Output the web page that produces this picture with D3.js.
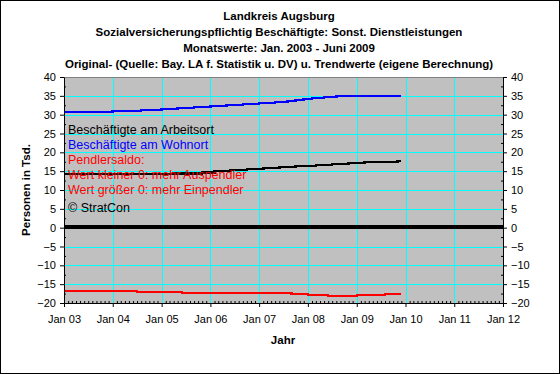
<!DOCTYPE html>
<html><head><meta charset="utf-8">
<script src="https://cdn.jsdelivr.net/npm/d3@7"></script>
<style>
html,body{margin:0;padding:0;background:#fff;}
svg{display:block;font-family:"Liberation Sans",Arial,sans-serif;}
</style></head>
<body><svg id="c" width="560" height="374"></svg>
<script>
// ---- data ----
const titleLines = [
  "Landkreis Augsburg",
  "Sozialversicherungspflichtig Beschäftigte: Sonst. Dienstleistungen",
  "Monatswerte: Jan. 2003 - Juni 2009",
  "Original- (Quelle: Bay. LA f. Statistik u. DV) u. Trendwerte (eigene Berechnung)"
];
const xTickDates = ["2003-01","2004-01","2005-01","2006-01","2007-01","2008-01","2009-01","2010-01","2011-01","2012-01"];
const xTickLabels = ["Jan 03","Jan 04","Jan 05","Jan 06","Jan 07","Jan 08","Jan 09","Jan 10","Jan 11","Jan 12"];
const yTickValues = [-20,-15,-10,-5,0,5,10,15,20,25,30,35,40];

// Beschäftigte am Wohnort (trend, blue)
const wohnortDates  = ["2003-01","2004-01","2004-08","2005-01","2005-05","2005-09","2006-01","2006-05","2006-09","2007-01","2007-05","2007-08","2007-10","2007-12","2008-02","2008-05","2008-08","2009-12"];
const wohnortValues = [30.7,31.0,31.2,31.5,31.8,32.0,32.3,32.6,32.8,33.1,33.4,33.6,33.9,34.2,34.4,34.7,35.0,35.0];

// Beschäftigte am Arbeitsort (trend, black)
const arbeitsortDates  = ["2003-01","2005-04","2005-11","2006-02","2006-06","2006-10","2007-02","2007-06","2007-10","2008-03","2008-07","2008-11","2009-03","2009-11","2009-12"];
const arbeitsortValues = [14.2,14.4,14.7,15.0,15.3,15.6,15.9,16.1,16.4,16.6,16.9,17.2,17.4,17.7,17.7];

// Pendlersaldo (trend, red)
const pendlerDates  = ["2003-01","2004-07","2005-06","2007-09","2008-01","2008-06","2009-01","2009-08","2009-12"];
const pendlerValues = [-16.8,-17.1,-17.3,-17.6,-17.9,-18.1,-17.9,-17.6,-17.6];

// near-zero reference series (thick black)
const nullDates  = ["2003-01","2007-07","2012-01"];
const nullValues = [0.3,0.1,0.1];

const legendLines = [
  {text:"Beschäftigte am Arbeitsort", color:"#000000"},
  {text:"Beschäftigte am Wohnort", color:"#0000FF"},
  {text:"Pendlersaldo:", color:"#FF0000"},
  {text:"Wert kleiner 0: mehr Auspendler", color:"#FF0000"},
  {text:"Wert größer 0: mehr Einpendler", color:"#FF0000"},
  {text:"© StratCon", color:"#000000"}
];

// ---- drawing ----
const parse = d3.timeParse("%Y-%m");
const svg = d3.select("#c");
const W = 560, H = 374;
const L = 64, R = 503, T = 77, B = 303;

svg.append("rect").attr("x",0.5).attr("y",0.5).attr("width",W-1).attr("height",H-1)
  .attr("fill","#fff").attr("stroke","#000").attr("stroke-width",1);

const x = d3.scaleTime().domain([parse("2003-01"), parse("2012-01")]).range([L, R]);
const y = d3.scaleLinear().domain([-20, 40]).range([B, T]);

// plot background
svg.append("rect").attr("x",L).attr("y",T).attr("width",R-L).attr("height",B-T).attr("fill","#C0C0C0");

// grid
const g = svg.append("g").attr("shape-rendering","crispEdges");
g.selectAll("line.hy").data(yTickValues.filter(v=>v>-20 && v<40)).join("line")
  .attr("x1",L).attr("x2",R).attr("y1",d=>Math.round(y(d))+0.5).attr("y2",d=>Math.round(y(d))+0.5)
  .attr("stroke","#00FFFF");
g.selectAll("line.vx").data(xTickDates.slice(1,-1)).join("line")
  .attr("y1",T).attr("y2",B).attr("x1",d=>Math.round(x(parse(d)))+0.5).attr("x2",d=>Math.round(x(parse(d)))+0.5)
  .attr("stroke","#00FFFF");
// top border
svg.append("line").attr("x1",L).attr("x2",R+1).attr("y1",T+0.5).attr("y2",T+0.5).attr("stroke","#808080");

// series
function drawSeries(dates, values, color, width){
  const data = dates.map((d,i)=>({d:parse(d), v:values[i]}));
  const line = d3.line().x(p=>x(p.d)).y(p=>y(p.v)).curve(d3.curveStepAfter);
  svg.append("path").datum(data).attr("d",line).attr("fill","none")
    .attr("stroke",color).attr("stroke-width",width).attr("shape-rendering","crispEdges");
}
drawSeries(nullDates, nullValues, "#000000", 4);
drawSeries(wohnortDates, wohnortValues, "#0000FF", 2.5);
drawSeries(arbeitsortDates, arbeitsortValues, "#000000", 2.5);
drawSeries(pendlerDates, pendlerValues, "#FF0000", 2.5);

// axes
const fmtY = d => d3.format("d")(d).replace("-","-");
const yMinor = d3.range(-20, 40.01, 2.5).filter(v => v % 5 !== 0);
const xMinor = d3.timeMonth.range(parse("2003-01"), parse("2012-01")).filter(d=>d.getMonth()!==0);

function styleAxis(sel){
  sel.select(".domain").attr("stroke","#000");
  sel.selectAll(".tick line").attr("stroke","#000");
  sel.selectAll(".tick text").attr("fill","#000").style("font-size","11px").style("font-family","'Liberation Sans',Arial,sans-serif");
}
const yl = svg.append("g").attr("transform",`translate(${L},0)`)
  .call(d3.axisLeft(y).tickValues(yTickValues).tickFormat(fmtY).tickSize(4).tickSizeOuter(0).tickPadding(4));
styleAxis(yl);
svg.append("g").attr("transform",`translate(${L},0)`)
  .call(d3.axisRight(y).tickValues(yMinor).tickSize(2).tickFormat("")).call(s=>s.select(".domain").remove())
  .selectAll("line").attr("stroke","#000");
const yr = svg.append("g").attr("transform",`translate(${R},0)`)
  .call(d3.axisRight(y).tickValues(yTickValues).tickFormat(fmtY).tickSize(4).tickSizeOuter(0).tickPadding(4));
styleAxis(yr);
svg.append("g").attr("transform",`translate(${R},0)`)
  .call(d3.axisLeft(y).tickValues(yMinor).tickSize(2).tickFormat("")).call(s=>s.select(".domain").remove())
  .selectAll("line").attr("stroke","#000");
const xa = svg.append("g").attr("transform",`translate(0,${B})`)
  .call(d3.axisBottom(x).tickValues(xTickDates.map(parse)).tickFormat((d,i)=>xTickLabels[i]).tickSize(4).tickSizeOuter(0).tickPadding(8));
styleAxis(xa);
svg.append("g").attr("transform",`translate(0,${B})`)
  .call(d3.axisTop(x).tickValues(xMinor).tickSize(2).tickFormat("")).call(s=>s.select(".domain").remove())
  .selectAll("line").attr("stroke","#000");

// titles
svg.append("g").selectAll("text").data(titleLines).join("text")
  .attr("x",279).attr("y",(d,i)=>20+i*16).attr("text-anchor","middle")
  .style("font-weight","bold").style("font-size","11.5px").attr("fill","#000").text(d=>d);

svg.append("text").attr("x",283).attr("y",344).attr("text-anchor","middle")
  .style("font-weight","bold").style("font-size","11.5px").text("Jahr");
svg.append("text").attr("transform",`translate(30,${(T+B)/2}) rotate(-90)`).attr("text-anchor","middle")
  .style("font-weight","bold").style("font-size","11.5px").text("Personen in Tsd.");

// legend text
const legY = [134,149,164,179,194,212];
svg.append("g").selectAll("text").data(legendLines).join("text")
  .attr("x",68).attr("y",(d,i)=>legY[i]).attr("fill",d=>d.color)
  .style("font-size","12.5px").text(d=>d.text);
</script>
</body></html>
